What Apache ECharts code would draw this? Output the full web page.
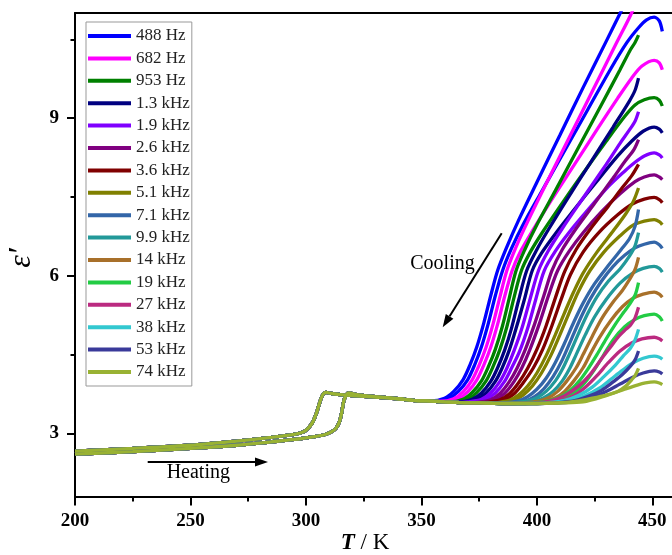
<!DOCTYPE html>
<html><head><meta charset="utf-8">
<script src="https://cdn.jsdelivr.net/npm/echarts@6/dist/echarts.min.js"></script>
<style>html,body{margin:0;padding:0;background:#fff}#c{width:672px;height:555px}</style>
</head><body><div id="c"></div>
<script>
const freqLabels = ['488 Hz','682 Hz','953 Hz','1.3 kHz','1.9 kHz','2.6 kHz','3.6 kHz','5.1 kHz','7.1 kHz','9.9 kHz','14 kHz','19 kHz','27 kHz','38 kHz','53 kHz','74 kHz'];
const xTicks = [200,250,300,350,400,450];
const xMinorTicks = [225,275,325,375,425];
const yTicks = [3,6,9];
const yMinorTicks = [4.5,7.5,10.5];

// shared low-temperature parts (all frequencies overlap here)
const heatingLow = [[200,2.605],[225,2.655],[250,2.715],[270,2.775],[285,2.84],[295,2.885],[303,2.935],[308,2.975],[311,3.03],[313,3.1],[314.5,3.22],[315.5,3.4],[316.3,3.6],[317.3,3.72],[318.5,3.77],[322,3.74],[330,3.7],[340,3.66],[350,3.62]];
const coolingLow = [[200,2.665],[225,2.715],[250,2.775],[270,2.855],[285,2.925],[295,2.98],[299,3.03],[301,3.1],[303,3.22],[304.5,3.38],[305.5,3.52],[306.5,3.66],[307.5,3.75],[308.7,3.78],[311,3.76],[315,3.74],[320,3.72],[330,3.69],[340,3.66],[350,3.62]];
const plateau = [[352,3.62],[356,3.61],[360,3.6],[365,3.59],[370,3.58],[375,3.58],[380,3.575],[385,3.57],[390,3.57],[395,3.57],[400,3.57],[405,3.575]];

// high-temperature cooling branches
const c488Hz = [[354,3.62],[360,3.67],[364,3.8],[368,4.02],[371,4.3],[374,4.65],[377,5.1],[380,5.62],[383,6.1],[387,6.55],[392,7.05],[400,7.78],[410,8.68],[420,9.58],[430,10.46],[437,11.08],[441,11.45]];
const c682Hz = [[358,3.61],[364,3.66],[368,3.79],[372,4.02],[375,4.3],[378,4.64],[381,5.08],[384,5.6],[387,6.1],[391,6.55],[396,7.03],[404,7.75],[414,8.63],[424,9.51],[434,10.39],[441,11.0],[444,11.35]];
const c953Hz = [[362,3.6],[368,3.65],[372,3.78],[376,4.0],[379,4.27],[382,4.6],[385,5.03],[388,5.57],[391,6.1],[395,6.52],[400,6.97],[408,7.62],[418,8.44],[428,9.26],[436,9.92],[440.5,10.3],[442.5,10.44],[444,10.58]];
const c1_3kHz = [[366,3.6],[372,3.65],[376,3.77],[380,3.99],[383,4.25],[386,4.58],[389,5.0],[392,5.52],[395.6,6.1],[400,6.5],[405,6.88],[413,7.45],[423,8.14],[433,8.83],[440,9.32],[442.5,9.53],[444,9.76]];
const c1_9kHz = [[370,3.6],[376,3.65],[380,3.77],[384,3.99],[387,4.24],[390,4.56],[393.5,5.0],[397,5.55],[400.7,6.1],[405,6.48],[411,6.9],[420,7.48],[430,8.12],[436,8.52],[440,8.77],[442.5,8.94],[444,9.12]];
const c2_6kHz = [[374,3.59],[380,3.64],[384,3.76],[388,3.98],[391.5,4.25],[395,4.6],[399,5.08],[403,5.62],[406.5,6.1],[411,6.5],[417,6.9],[425,7.38],[433,7.86],[438,8.17],[442,8.4],[444,8.59]];
const c3_6kHz = [[378,3.59],[384,3.64],[388,3.75],[392,3.96],[396,4.24],[400,4.6],[404,5.05],[408,5.58],[412,6.08],[417,6.5],[423,6.88],[431,7.33],[437,7.68],[441,7.9],[444,8.12]];
const c5_1kHz = [[382,3.58],[388,3.63],[392,3.73],[396,3.9],[400,4.15],[404,4.48],[408,4.88],[412,5.3],[416,5.7],[420,6.05],[426,6.45],[433,6.85],[438.5,7.18],[441.8,7.42],[444,7.67]];
const c7_1kHz = [[386,3.58],[392,3.62],[396,3.7],[400,3.84],[404,4.05],[408,4.35],[412,4.72],[416,5.12],[420,5.48],[425,5.85],[431,6.2],[436.5,6.5],[440,6.7],[442.5,6.94],[444,7.26]];
const c9_9kHz = [[390,3.58],[396,3.62],[400,3.68],[404,3.8],[408,4.0],[411,4.22],[414,4.5],[418,4.9],[422,5.28],[426,5.6],[431,5.9],[436,6.13],[440,6.37],[442.5,6.57],[444,6.82]];
const c14kHz = [[394,3.58],[400,3.61],[405,3.68],[409,3.8],[413,4.0],[417,4.25],[420,4.5],[424,4.85],[428,5.18],[433,5.5],[437,5.72],[440,5.92],[442.5,6.12],[444,6.35]];
const c19kHz = [[398,3.58],[404,3.61],[409,3.67],[414,3.8],[418,3.98],[422,4.22],[426,4.5],[430,4.8],[434,5.08],[437.5,5.3],[440,5.45],[442.5,5.63],[444,5.87]];
const c27kHz = [[400,3.58],[406,3.62],[412,3.72],[418,3.9],[423,4.12],[428,4.42],[432,4.65],[435.5,4.85],[438.5,4.98],[440.5,5.06],[442.5,5.2],[444,5.4]];
const c38kHz = [[404,3.58],[412,3.63],[418,3.72],[424,3.88],[429,4.08],[434,4.3],[437.5,4.48],[440.5,4.62],[442.5,4.78],[444,4.98]];
const c53kHz = [[408,3.58],[416,3.62],[422,3.7],[428,3.82],[433,3.98],[437,4.12],[440.5,4.28],[442.5,4.4],[444,4.57]];
const c74kHz = [[410,3.58],[418,3.62],[424,3.67],[430,3.73],[435,3.8],[438.5,3.9],[441,4.02],[442.5,4.1],[444,4.24]];

// high-temperature heating branches (ending in the hooks)
const h488Hz = [[356,3.61],[362,3.67],[366,3.8],[370,4.02],[373,4.3],[376,4.65],[379,5.1],[382,5.62],[385.3,6.12],[389,6.52],[394,6.97],[402,7.6],[412,8.38],[422,9.16],[432,9.94],[439,10.44],[444,10.72],[447.5,10.87],[450.8,10.92],[453,10.85],[454.3,10.65]];
const h682Hz = [[360,3.61],[366,3.66],[370,3.79],[374,4.02],[377,4.3],[380,4.64],[383,5.08],[386,5.6],[389.3,6.1],[393,6.47],[398,6.85],[406,7.42],[416,8.1],[426,8.78],[435,9.38],[441,9.76],[445.5,9.99],[450.8,10.1],[453,10.05],[454.3,9.92]];
const h953Hz = [[364,3.6],[370,3.65],[374,3.78],[378,4.0],[381,4.27],[384,4.6],[387,5.03],[390,5.57],[393.3,6.1],[397,6.44],[402,6.8],[410,7.32],[420,7.95],[430,8.56],[438,9.03],[442.5,9.25],[446.5,9.35],[450.8,9.39],[453,9.34],[454.3,9.23]];
const h1_3kHz = [[368,3.6],[374,3.65],[378,3.77],[382,3.99],[385,4.25],[388,4.58],[391,5.0],[394.4,5.52],[398,6.1],[402,6.43],[408,6.8],[416,7.25],[426,7.8],[435,8.28],[441,8.56],[446,8.75],[450.8,8.83],[453,8.79],[454.3,8.72]];
const h1_9kHz = [[372,3.6],[378,3.65],[382,3.77],[386,3.99],[389,4.24],[392.5,4.56],[396,5.0],[399.5,5.55],[403.2,6.1],[408,6.47],[414,6.83],[422,7.25],[431,7.7],[438,7.99],[442.5,8.16],[446.5,8.28],[450.8,8.34],[453,8.3],[454.3,8.24]];
const h2_6kHz = [[376,3.59],[382,3.64],[386,3.76],[390,3.98],[393.5,4.25],[397,4.6],[401,5.08],[405,5.62],[409,6.1],[414,6.47],[420,6.82],[428,7.22],[436,7.56],[442.5,7.79],[446.5,7.88],[450.8,7.92],[453,7.88],[454.3,7.83]];
const h3_6kHz = [[380,3.59],[386,3.64],[390,3.75],[394,3.96],[398.5,4.25],[402.5,4.6],[406.5,5.05],[410.5,5.55],[414.5,6.02],[420,6.45],[427,6.83],[435,7.16],[441.5,7.37],[446.5,7.46],[450.8,7.49],[453,7.45],[454.3,7.39]];
const h5_1kHz = [[384,3.58],[390,3.63],[394,3.73],[398,3.9],[402,4.15],[406,4.48],[410,4.88],[414,5.3],[418,5.7],[423,6.1],[429,6.45],[436,6.76],[441.5,6.96],[446.5,7.04],[450.8,7.07],[453,7.03],[454.3,6.97]];
const h7_1kHz = [[389,3.58],[395,3.62],[399,3.7],[403,3.85],[407,4.08],[411,4.4],[415,4.8],[419,5.2],[423,5.55],[428,5.9],[433,6.18],[438,6.39],[442.5,6.53],[446.5,6.6],[450.8,6.64],[453,6.59],[454.3,6.52]];
const h9_9kHz = [[393,3.58],[399,3.62],[403,3.68],[407,3.8],[411,4.0],[414,4.22],[417,4.5],[421,4.88],[425,5.22],[430,5.55],[436,5.86],[441.5,6.05],[446,6.14],[450.8,6.18],[453,6.14],[454.3,6.07]];
const h14kHz = [[397,3.58],[403,3.61],[408,3.68],[412,3.8],[416,4.0],[420,4.25],[423,4.5],[427,4.82],[432,5.15],[437,5.41],[441.5,5.57],[446,5.65],[450.8,5.69],[453,5.65],[454.3,5.59]];
const h19kHz = [[401,3.58],[407,3.61],[412,3.67],[417,3.8],[421,3.98],[425,4.22],[429,4.5],[433,4.78],[438,5.03],[442.5,5.17],[446.5,5.24],[450.8,5.27],[453,5.22],[454.3,5.14]];
const h27kHz = [[403,3.58],[410,3.62],[416,3.72],[421,3.88],[426,4.1],[431,4.35],[436,4.57],[441,4.72],[445.5,4.8],[450.8,4.83],[453,4.8],[454.3,4.76]];
const h38kHz = [[407,3.58],[415,3.63],[421,3.72],[427,3.86],[432,4.03],[437,4.2],[441.5,4.34],[446,4.43],[450.8,4.47],[453,4.45],[454.3,4.41]];
const h53kHz = [[410,3.58],[418,3.62],[424,3.69],[430,3.8],[436,3.94],[441.5,4.07],[446,4.15],[450.8,4.19],[453,4.17],[454.3,4.13]];
const h74kHz = [[410,3.58],[420,3.6],[430,3.72],[438,3.84],[443.5,3.92],[447,3.96],[450.8,3.98],[453,3.96],[454.3,3.93]];

const coolingHigh = [c488Hz,c682Hz,c953Hz,c1_3kHz,c1_9kHz,c2_6kHz,c3_6kHz,c5_1kHz,c7_1kHz,c9_9kHz,c14kHz,c19kHz,c27kHz,c38kHz,c53kHz,c74kHz];
const heatingHigh = [h488Hz,h682Hz,h953Hz,h1_3kHz,h1_9kHz,h2_6kHz,h3_6kHz,h5_1kHz,h7_1kHz,h9_9kHz,h14kHz,h19kHz,h27kHz,h38kHz,h53kHz,h74kHz];

const palette = ['#0000ff','#ff00ff','#008000','#000080','#8000ff','#800080','#800000','#808000','#3366a8','#229999','#a8702a','#22cc44','#bb2a80','#33c8d0','#3a3a9a','#99b233'];

function joinBranch(low, high) {
  const t0 = high[0][0], tl = low[low.length - 1][0];
  return low.concat(plateau.filter(p => p[0] > tl && p[0] < t0 - 1.5), high);
}

const series = [];
freqLabels.forEach((name, i) => {
  [joinBranch(coolingLow, coolingHigh[i]), joinBranch(heatingLow, heatingHigh[i])].forEach(d => {
    series.push({
      name, type: 'line', data: d, xAxisIndex: 0, yAxisIndex: 0,
      symbol: 'none', smooth: 0.3,
      lineStyle: { width: 3.3, color: palette[i] }, itemStyle: { color: palette[i] },
      emphasis: { disabled: true }, silent: true
    });
  });
});

const serif = 'Liberation Serif';
const chart = echarts.init(document.getElementById('c'), null, { renderer: 'canvas' });
const X0 = 200, X1 = 458.5, Y0 = 1.8, Y1 = 11;
chart.setOption({
  animation: false,
  backgroundColor: '#fff',
  grid: { left: 75, right: 0, top: 13, height: 483.5, containLabel: false },
  xAxis: [
    { type: 'value', position: 'bottom', min: X0, max: X1, splitLine: { show: false },
      axisLine: { lineStyle: { color: '#000', width: 2 } },
      axisTick: { customValues: xTicks, length: 9, lineStyle: { color: '#000', width: 2 } },
      axisLabel: { customValues: xTicks, margin: 15, color: '#000', fontFamily: serif, fontWeight: 'bold', fontSize: 19 } },
    { type: 'value', position: 'top', min: X0, max: X1, splitLine: { show: false },
      axisLine: { lineStyle: { color: '#000', width: 2 } }, axisTick: { show: false }, axisLabel: { show: false } },
    { type: 'value', position: 'bottom', min: X0, max: X1, splitLine: { show: false },
      axisLine: { show: false },
      axisTick: { customValues: xMinorTicks, length: 5, lineStyle: { color: '#000', width: 2 } },
      axisLabel: { show: false } }
  ],
  yAxis: [
    { type: 'value', position: 'left', min: Y0, max: Y1, splitLine: { show: false },
      axisLine: { show: true, lineStyle: { color: '#000', width: 2 } },
      axisTick: { show: true, customValues: yTicks, length: 8, lineStyle: { color: '#000', width: 2 } },
      axisLabel: { customValues: yTicks, margin: 16, color: '#000', fontFamily: serif, fontWeight: 'bold', fontSize: 19 } },
    { type: 'value', position: 'left', min: Y0, max: Y1, splitLine: { show: false },
      axisLine: { show: false },
      axisTick: { show: true, customValues: yMinorTicks, length: 4.5, lineStyle: { color: '#000', width: 2 } },
      axisLabel: { show: false } }
  ],
  legend: {
    orient: 'vertical', left: 86, top: 22, data: freqLabels,
    icon: 'path://M0,0H43V4H0Z',
    itemWidth: 43, itemHeight: 17, itemGap: 5.4, padding: [5.5, 2, 5.5, 2],
    backgroundColor: '#fff', borderColor: '#999', borderWidth: 1,
    textStyle: { fontFamily: serif, fontSize: 17, lineHeight: 17, color: '#222' },
    selectedMode: false
  },
  series,
  graphic: [
    { type: 'text', x: 365, y: 543, style: { text: '{a|T}{b| / K}', align: 'center', verticalAlign: 'middle',
      rich: { a: { fontFamily: serif, fontStyle: 'italic', fontWeight: 'bold', fontSize: 23, fill: '#000' },
              b: { fontFamily: serif, fontSize: 23, fill: '#000' } } } },
    { type: 'text', x: 22, y: 258, rotation: Math.PI / 2, style: { text: 'ε\u2032', align: 'center', verticalAlign: 'middle',
      fontFamily: serif, fontStyle: 'italic', fontSize: 32, fill: '#000' } },
    { type: 'text', x: 442.5, y: 264, style: { text: 'Cooling', align: 'center', verticalAlign: 'middle', fontFamily: serif, fontSize: 20, fill: '#000' } },
    { type: 'line', shape: { x1: 501.7, y1: 233.3, x2: 449.6, y2: 316.3 }, style: { stroke: '#000', lineWidth: 2 } },
    { type: 'polygon', shape: { points: [[442.7, 327.3], [453.4, 318.7], [445.8, 313.9]] }, style: { fill: '#000' } },
    { type: 'text', x: 198.3, y: 473, style: { text: 'Heating', align: 'center', verticalAlign: 'middle', fontFamily: serif, fontSize: 20, fill: '#000' } },
    { type: 'line', shape: { x1: 147.7, y1: 462, x2: 256, y2: 462 }, style: { stroke: '#000', lineWidth: 2 } },
    { type: 'polygon', shape: { points: [[268, 462], [255, 457.5], [255, 466.5]] }, style: { fill: '#000' } }
  ]
});
</script>
</body></html>
